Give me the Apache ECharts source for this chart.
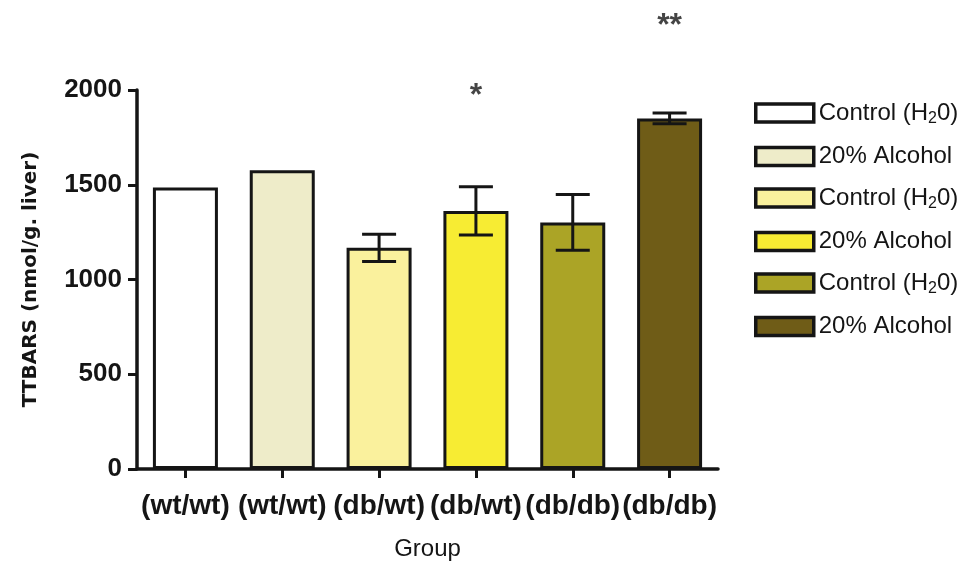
<!DOCTYPE html>
<html>
<head>
<meta charset="utf-8">
<script src="https://cdn.jsdelivr.net/npm/echarts@6/dist/echarts.min.js"></script>
<style>
  html, body { margin: 0; padding: 0; background: #ffffff; }
  #chart { width: 965px; height: 566px; }
</style>
</head>
<body>
<div id="chart"></div>
<script>
// ---- data ----
const categories = ['(wt/wt)', '(wt/wt)', '(db/wt)', '(db/wt)', '(db/db)', '(db/db)'];
const legendLabels = ['Control (H2O)', '20% Alcohol', 'Control (H2O)', '20% Alcohol', 'Control (H2O)', '20% Alcohol'];
const seriesNames = ['wt/wt Control', 'wt/wt Alcohol', 'db/wt Control', 'db/wt Alcohol', 'db/db Control', 'db/db Alcohol'];
const means = [1485, 1576, 1167, 1362, 1301, 1850];
const sem = [null, null, 72, 127, 147, 28];
const barColors = ['#ffffff', '#eeecc9', '#faf19d', '#f7ec33', '#aba426', '#6f5c17'];
const yTicks = [0, 500, 1000, 1500, 2000];
const annotIdx = [3, 5];
const annotVal = [2003, 2376];
const annotText = ['*', '**'];

const chart = echarts.init(document.getElementById('chart'), null, { renderer: 'canvas' });

const barSeries = seriesNames.map((name, i) => ({
  name: name,
  type: 'bar',
  stack: 'all',
  barWidth: 65,
  data: categories.map((c, j) => (j === i ? means[i] : '-')),
  itemStyle: { color: barColors[i], borderColor: '#151515', borderWidth: 3 },
  emphasis: { disabled: true },
  z: 2
}));

const errData = [];
means.forEach((m, i) => {
  if (sem[i] != null) errData.push([i, m - sem[i], m + sem[i]]);
});

const errSeries = {
  type: 'custom',
  name: 'err',
  data: errData,
  z: 5,
  silent: true,
  renderItem: function (params, api) {
    const lo = api.coord([api.value(0), api.value(1)]);
    const hi = api.coord([api.value(0), api.value(2)]);
    const half = 17;
    const style = { stroke: '#151515', lineWidth: 3 };
    return {
      type: 'group',
      children: [
        { type: 'line', shape: { x1: lo[0], y1: lo[1], x2: hi[0], y2: hi[1] }, style: style },
        { type: 'line', shape: { x1: hi[0] - half, y1: hi[1], x2: hi[0] + half, y2: hi[1] }, style: style },
        { type: 'line', shape: { x1: lo[0] - half, y1: lo[1], x2: lo[0] + half, y2: lo[1] }, style: style }
      ]
    };
  }
};

const annotSeries = {
  type: 'scatter',
  name: 'annot',
  clip: false,
  silent: true,
  symbolSize: 1,
  itemStyle: { color: 'rgba(0,0,0,0)' },
  data: annotIdx.map((x, i) => [x, annotVal[i], annotText[i]]),
  label: {
    show: true,
    position: 'inside',
    offset: [0, 7],
    formatter: p => p.data[2],
    fontFamily: 'Liberation Sans',
    fontWeight: 'bold',
    fontSize: 32,
    color: '#151515'
  },
  z: 6
};

function legendFmt(name) {
  const lbl = legendLabels[seriesNames.indexOf(name)];
  if (lbl.indexOf('H2O') >= 0) {
    return '{n|Control (H}{s|2}{n|0)}';
  }
  return '{n|' + lbl + '}';
}

const option = {
  animation: false,
  backgroundColor: '#ffffff',
  grid: { left: 137, right: 247, top: 90, bottom: 96, containLabel: false },
  legend: {
    orient: 'vertical',
    left: 754,
    top: 101,
    padding: 0,
    itemWidth: 58,
    itemHeight: 18,
    itemGap: 17.5,
    icon: 'rect',
    selectedMode: false,
    data: seriesNames,
    formatter: legendFmt,
    itemStyle: { borderColor: '#151515', borderWidth: 3.5 },
    textStyle: {
      color: '#151515',
      rich: {
        n: { fontFamily: 'Liberation Sans', fontSize: 24, color: '#151515' },
        s: { fontFamily: 'Liberation Sans', fontSize: 16, color: '#151515', padding: [12, 0, 0, 0] }
      }
    }
  },
  xAxis: {
    type: 'category',
    data: categories,
    name: 'Group',
    nameLocation: 'middle',
    nameGap: 68,
    nameTextStyle: { fontFamily: 'Liberation Sans', fontSize: 24, color: '#151515' },
    axisLine: { show: true, lineStyle: { color: '#151515', width: 3.5 } },
    axisTick: { show: true, alignWithLabel: true, length: 9, lineStyle: { color: '#151515', width: 3 } },
    axisLabel: {
      interval: 0,
      margin: 23,
      fontFamily: 'Liberation Sans',
      fontWeight: 'bold',
      fontSize: 28,
      color: '#151515'
    },
    splitLine: { show: false }
  },
  yAxis: {
    type: 'value',
    min: yTicks[0],
    max: yTicks[yTicks.length - 1],
    interval: yTicks[1] - yTicks[0],
    name: 'TTBARS (nmol/g. liver)',
    nameLocation: 'middle',
    nameGap: 96,
    nameRotate: 90,
    nameTextStyle: { fontFamily: 'DejaVu Sans', fontWeight: 'bold', fontSize: 20, color: '#151515' },
    axisLine: { show: true, lineStyle: { color: '#151515', width: 3.5 } },
    axisTick: { show: true, length: 9, lineStyle: { color: '#151515', width: 3 } },
    axisLabel: {
      margin: 15,
      formatter: v => String(v),
      fontFamily: 'Liberation Sans',
      fontWeight: 'bold',
      fontSize: 26,
      color: '#151515'
    },
    splitLine: { show: false }
  },
  series: barSeries.concat([errSeries, annotSeries])
};

chart.setOption(option);
</script>
</body>
</html>
